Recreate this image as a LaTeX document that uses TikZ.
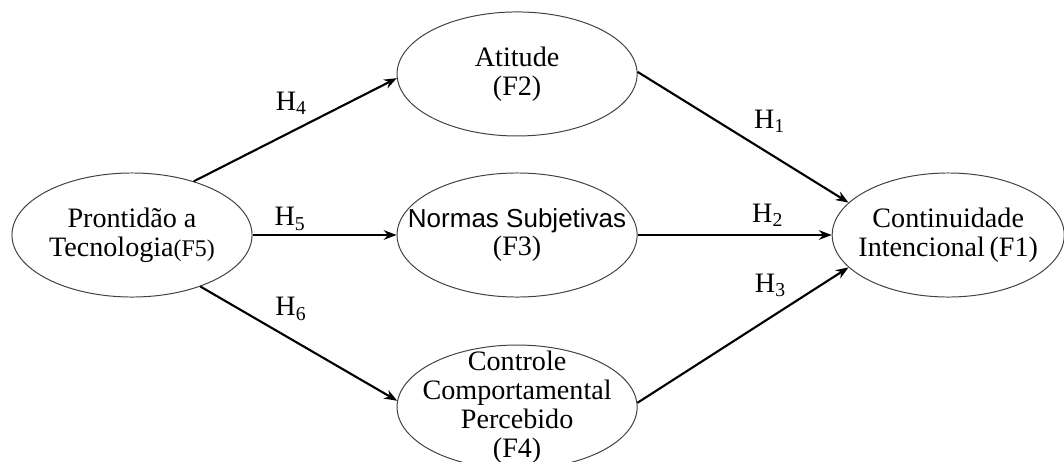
\documentclass[tikz,border=0pt]{standalone}
\usepackage{fontspec}
\setmainfont{Liberation Serif}
\newfontfamily\normasfont{Liberation Sans}
\usetikzlibrary{arrows.meta,positioning,shapes.geometric}

\begin{document}
\begin{tikzpicture}[->,>={Stealth[length=3.2mm,width=2.4mm]},x=0.025cm,y=-0.025cm,
    line width=1.5pt,main node/.style={ellipse,draw=black!75,line width=0.7pt,minimum width=6cm,
    minimum height=3.1cm,inner xsep=-0.8cm,inner ysep=-0.6cm,align=center,font=\fontsize{20}{20.5}\selectfont}]
    \useasboundingbox (0,0) rectangle (1064,461);

    \node[main node] (pront) at (132,235) {Prontidão a\\Tecnologia{\fontsize{17}{17}\selectfont(F5)}};
    \node[main node] (norm) [right of=pront,node distance=9.625cm] {{\normasfont\fontsize{18.5}{20}\selectfont Normas Subjetivas}\\(F3)};
    \node[main node] (atit) [above of=norm,node distance=4.025cm] {Atitude\\(F2)};
    \node[main node] (ctrl) [below of=norm,node distance=4.3cm] {Controle\\Comportamental\\Percebido\\(F4)};
    \node[main node,minimum width=5.8cm] (cont) [right of=norm,node distance=10.775cm] {Continuidade\\Intencional\,(F1)};

    \path[every node/.style={font=\fontsize{20}{20}\selectfont}]
    (pront.41) edge node[pos=0.48,yshift=0.72cm] {H\textsubscript{4}} (atit.182)
    (pront.east) edge node[pos=0.26,yshift=0.4cm] {H\textsubscript{5}} (norm.west)
    (pront.-37) edge node[pos=0.46,yshift=0.75cm] {H\textsubscript{6}} (ctrl.177)
    (atit.1) edge node[pos=0.625,yshift=0.8cm] {H\textsubscript{1}} (cont.162)
    (norm.east) edge node[pos=0.67,yshift=0.5cm] {H\textsubscript{2}} (cont.west)
    (ctrl.2) edge node[pos=0.63,yshift=0.8cm] {H\textsubscript{3}} (cont.198);
\end{tikzpicture}
\end{document}
